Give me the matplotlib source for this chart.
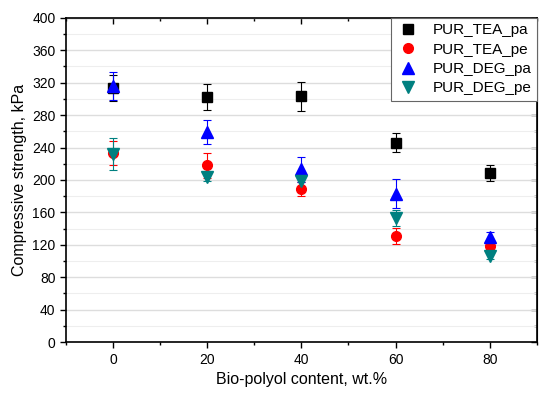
import matplotlib
matplotlib.use("Agg")
import matplotlib.pyplot as plt
from matplotlib.lines import Line2D
from matplotlib.ticker import MultipleLocator

plt.rcParams['font.family'] = ['Liberation Sans', 'DejaVu Sans']

content = [0, 20, 40, 60, 80]
labels = ["PUR_TEA_pa", "PUR_TEA_pe", "PUR_DEG_pa", "PUR_DEG_pe"]
tea_pa = [313, 302, 303, 246, 209]
tea_pa_err = [16, 16, 18, 12, 10]
tea_pe = [233, 218, 189, 131, 118]
tea_pe_err = [15, 15, 9, 10, 8]
deg_pa = [316, 259, 213, 183, 130]
deg_pa_err = [17, 15, 15, 18, 6]
deg_pe = [232, 204, 199, 153, 106]
deg_pe_err = [20, 5, 8, 10, 4]

series = [
    (tea_pa, tea_pa_err, "s", "black", 6.5),
    (tea_pe, tea_pe_err, "o", "red", 7),
    (deg_pa, deg_pa_err, "^", "blue", 8),
    (deg_pe, deg_pe_err, "v", "#008080", 8),
]

fig = plt.figure(figsize=(5.5, 3.96), dpi=100)
ax = fig.add_axes([0.12, 0.136, 0.856, 0.819])

handles = []
for (vals, errs, mk, col, ms), lab in zip(series, labels):
    ax.errorbar(content, vals, yerr=errs, fmt=mk, color=col, ms=ms,
                ecolor=col, elinewidth=0.8, capsize=3, capthick=0.8,
                zorder=3)
    handles.append(Line2D([], [], ls="none", marker=mk, color=col, ms=ms, label=lab))

ax.set_xlim(-10, 90)
ax.set_ylim(0, 400)
ax.xaxis.set_major_locator(MultipleLocator(20))
ax.xaxis.set_minor_locator(MultipleLocator(10))
ax.yaxis.set_major_locator(MultipleLocator(40))
ax.yaxis.set_minor_locator(MultipleLocator(20))
ax.grid(axis="y", which="major", color="#dddddd", lw=1.0, zorder=0)
ax.grid(axis="y", which="minor", color="#eeeeee", lw=0.8, zorder=0)
ax.set_axisbelow(True)

ax.tick_params(which="both", direction="out", labelsize=10)
ax.tick_params(which="major", length=4, width=1)
ax.tick_params(which="minor", length=2.5, width=1)
sec_y = ax.secondary_yaxis("right")
sec_y.yaxis.set_major_locator(MultipleLocator(40))
sec_y.yaxis.set_minor_locator(MultipleLocator(20))
sec_y.tick_params(which="both", direction="in", labelright=False)
sec_y.tick_params(which="major", length=4, width=1)
sec_y.tick_params(which="minor", length=2.5, width=1)
sec_x = ax.secondary_xaxis("top")
sec_x.xaxis.set_major_locator(MultipleLocator(20))
sec_x.xaxis.set_minor_locator(MultipleLocator(10))
sec_x.tick_params(which="both", direction="in", labeltop=False)
sec_x.tick_params(which="major", length=4, width=1)
sec_x.tick_params(which="minor", length=2.5, width=1)
for s in ax.spines.values():
    s.set_linewidth(1.2)

ax.set_xlabel("Bio-polyol content, wt.%", fontsize=11.5)
ax.set_ylabel("Compressive strength, kPa", fontsize=11.5)

leg = ax.legend(handles=handles, loc="upper right", fontsize=11, frameon=True,
                fancybox=False, edgecolor="#666666", framealpha=1,
                borderaxespad=0, handletextpad=0.8, handlelength=1.6,
                labelspacing=0.35, borderpad=0.35)
leg.get_frame().set_linewidth(0.8)

fig.savefig("out.png", dpi=100)
